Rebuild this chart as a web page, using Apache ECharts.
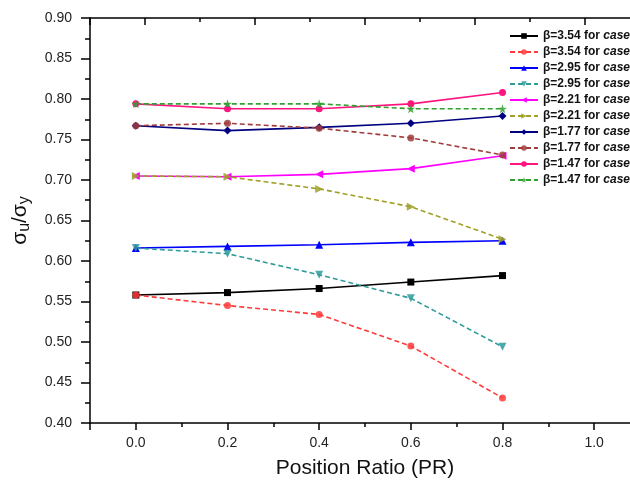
<!DOCTYPE html>
<html><head><meta charset="utf-8">
<script src="https://cdn.jsdelivr.net/npm/echarts@6/dist/echarts.min.js"></script>
<style>html,body{margin:0;padding:0;background:#fff}#c{width:630px;height:487px}</style>
</head><body><div id="c"></div>
<script>
const xValues = [0.0, 0.2, 0.4, 0.6, 0.8];
const seriesNames = [
  'β=3.54 for |case1', 'β=3.54 for |case2',
  'β=2.95 for |case1', 'β=2.95 for |case2',
  'β=2.21 for |case1', 'β=2.21 for |case2',
  'β=1.77 for |case1', 'β=1.77 for |case2',
  'β=1.47 for |case1', 'β=1.47 for |case2'
];
const b354c1 = [0.558, 0.561, 0.566, 0.574, 0.582];
const b354c2 = [0.558, 0.545, 0.534, 0.495, 0.431];
const b295c1 = [0.616, 0.618, 0.620, 0.623, 0.625];
const b295c2 = [0.616, 0.609, 0.583, 0.554, 0.494];
const b221c1 = [0.705, 0.704, 0.707, 0.714, 0.730];
const b221c2 = [0.705, 0.704, 0.689, 0.667, 0.627];
const b177c1 = [0.767, 0.761, 0.765, 0.770, 0.779];
const b177c2 = [0.767, 0.770, 0.764, 0.752, 0.731];
const b147c1 = [0.794, 0.788, 0.788, 0.794, 0.808];
const b147c2 = [0.794, 0.794, 0.794, 0.788, 0.788];
const yTickLabels = ['0.40','0.45','0.50','0.55','0.60','0.65','0.70','0.75','0.80','0.85','0.90'];
const xTickLabels = ['0.0','0.2','0.4','0.6','0.8','1.0'];

const allData = [b354c1,b354c2,b295c1,b295c2,b221c1,b221c2,b177c1,b177c2,b147c1,b147c2];
const colors = ['#000000','#ff3a3a','#0000ff','#2f9b9b','#ff00ff','#a0a028','#000080','#a03c3c','#ff1480','#30a030'];
const dashed = [false,true,false,true,false,true,false,true,false,true];
const star = 'path://M50,0 L61,35 L98,35 L68,57 L79,91 L50,70 L21,91 L32,57 L2,35 L39,35 Z';
const symbols = ['rect','circle','triangle','triangle','triangle','triangle','diamond','circle','circle',star];
const rotates = [0,0,0,180,90,-90,0,0,0,0];
const sizes = [7,7,8,8,8,8,8,7,7,9];

const series = allData.map((d,i)=>({
  name: seriesNames[i],
  type: 'line',
  data: d.map((v,j)=>[xValues[j], v]),
  symbol: symbols[i],
  symbolRotate: rotates[i],
  symbolSize: sizes[i],
  lineStyle: {color: colors[i], width: 1.6, type: dashed[i] ? [5,3] : 'solid'},
  itemStyle: {color: colors[i], opacity: dashed[i] ? 0.85 : 1},
  emphasis: {disabled: true},
  clip: false,
  animation: false
}));

const chart = echarts.init(document.getElementById('c'));
chart.setOption({
  animation: false,
  backgroundColor: '#fff',
  grid: {left: 90, width: 550, top: 18, bottom: 64, containLabel: false, outerBoundsMode: 'none'},
  xAxis: [{
    type: 'value', min: -0.1, max: 1.1, splitNumber: 6, minInterval: 0.2, maxInterval: 0.2,
    position: 'bottom',
    name: 'Position Ratio (PR)', nameLocation: 'middle', nameGap: 35,
    nameTextStyle: {fontFamily: 'Liberation Sans, Arial', fontSize: 21, color: '#111'},
    axisLine: {show: true, onZero: false, lineStyle: {color: '#000', width: 1.5}},
    axisTick: {show: true, inside: false, length: 7, lineStyle: {color: '#000', width: 1.5}},
    minorTick: {show: true, splitNumber: 2, length: 4, lineStyle: {color: '#000', width: 1.5}},
    axisLabel: {fontFamily: 'Liberation Sans, Arial', fontSize: 14, color: '#222', margin: 13,
      formatter: v => { const k = Math.round(v*5); return Math.abs(v*5-k) < 1e-6 && k>=0 && k<=5 ? xTickLabels[k] : ''; }},
    splitLine: {show: false}
  },{
    type: 'value', min: -1, max: 9, splitNumber: 5, minInterval: 2, maxInterval: 2,
    position: 'top',
    axisLine: {show: true, onZero: false, lineStyle: {color: '#000', width: 1.5}},
    axisTick: {show: true, inside: true, length: 7, lineStyle: {color: '#000', width: 1.5}},
    minorTick: {show: true, splitNumber: 2, length: 4, lineStyle: {color: '#000', width: 1.5}},
    axisLabel: {show: false},
    splitLine: {show: false}
  }],
  yAxis: {
    type: 'value', min: 0.4, max: 0.9, interval: 0.05,
    name: '{a|σ}{s|u}{a|/σ}{s|y}', nameLocation: 'middle', nameGap: 57, nameRotate: 90,
    nameTextStyle: {
      rich: {
        a: {fontFamily: 'Liberation Sans, Arial', fontSize: 21, color: '#111', lineHeight: 26},
        s: {fontFamily: 'Liberation Sans, Arial', fontSize: 16, color: '#111', lineHeight: 14, verticalAlign: 'bottom'}
      }
    },
    axisLine: {show: true, onZero: false, lineStyle: {color: '#000', width: 1.5}},
    axisTick: {show: true, inside: false, length: 9, lineStyle: {color: '#000', width: 1.5}},
    minorTick: {show: true, splitNumber: 2, length: 5, lineStyle: {color: '#000', width: 1.5}},
    axisLabel: {fontFamily: 'Liberation Sans, Arial', fontSize: 14, color: '#222', margin: 18,
      formatter: v => { const k = Math.round((v-0.4)/0.05); return yTickLabels[k] || ''; }},
    splitLine: {show: false}
  },
  legend: {
    orient: 'vertical', left: 509, top: 28, padding: 0, itemGap: 0,
    itemWidth: 28, itemHeight: 7,
    textStyle: {
      lineHeight: 16, overflow: 'none',
      rich: {
        n: {fontFamily: 'Liberation Sans, Arial', fontSize: 12, fontWeight: 'bold', color: '#111', lineHeight: 16},
        i: {fontFamily: 'Liberation Sans, Arial', fontSize: 12, fontWeight: 'bold', fontStyle: 'italic', color: '#111', lineHeight: 16}
      }
    },
    formatter: name => { const p = name.split('|'); return '{n|' + p[0] + '}{i|' + p[1] + '}'; },
    data: seriesNames
  },
  series: series
});
</script></body></html>
